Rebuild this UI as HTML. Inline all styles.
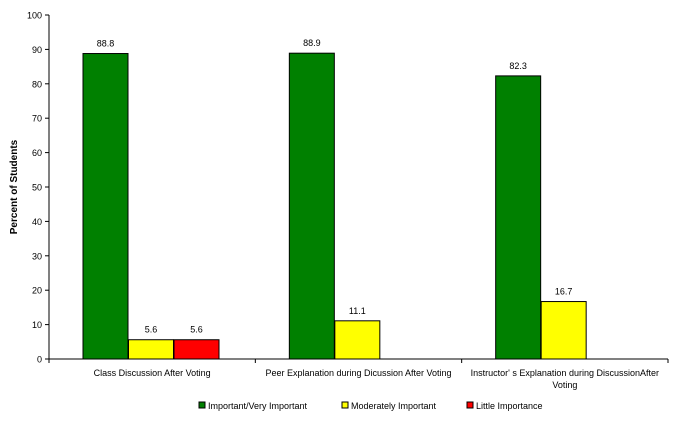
<!DOCTYPE html>
<html><head><meta charset="utf-8"><style>
body{margin:0;background:#fff;font-family:"Liberation Sans",Arial,sans-serif}
svg{display:block}
</style></head><body>
<svg id="c" width="673" height="424" font-family="Liberation Sans, Arial, sans-serif"></svg>
<script>
const categories=[["Class Discussion After Voting"],["Peer Explanation during Dicussion After Voting"],["Instructor' s Explanation during DiscussionAfter","Voting"]];
const seriesNames=["Important/Very Important","Moderately Important","Little Importance"];
const seriesColors=["#008000","#ffff00","#ff0000"];
const important=[88.8,88.9,82.3];
const moderate=[5.6,11.1,16.7];
const little=[5.6,null,null];
const yTicks=[0,10,20,30,40,50,60,70,80,90,100];
const series=[important,moderate,little];
const NS="http://www.w3.org/2000/svg";
const svg=document.getElementById('c');
const x0=49,x1=668,yTop=15,yBot=359;
const gw=(x1-x0)/categories.length;
const y=v=>yBot-(v/100)*(yBot-yTop);
function el(t,a,p){const e=document.createElementNS(NS,t);for(const k in a)e.setAttribute(k,a[k]);(p||svg).appendChild(e);return e;}
// y axis
let ax=el('line',{x1:x0,y1:yTop,x2:x0,y2:yBot,stroke:'#000'});


yTicks.forEach(t=>{
  const tk=el('line',{x1:x0-4,y1:y(t),x2:x0,y2:y(t),stroke:'#000'});
  
  
  const tx=el('text',{x:x0-7,y:y(t)+3.5,'font-size':9,'text-anchor':'end'});
  tx.textContent=t;
  
  
});
const yt=el('text',{x:17,y:187,'font-size':10,'font-weight':'bold','text-anchor':'middle',transform:'rotate(-90 17 187)'});
yt.textContent='Percent of Students';


// bars
categories.forEach((c,i)=>{
  const gx=x0+i*gw;
  series.forEach((s,j)=>{
    const v=s[i];
    if(v==null)return;
    const bx=gx+34+j*45.5;
    const r=el('rect',{x:bx,y:y(v),width:45,height:yBot-y(v),fill:seriesColors[j],stroke:'#000','stroke-width':1});
    
    
    const lt=el('text',{x:bx+22.5,y:y(v)-7,'font-size':9,'text-anchor':'middle'});
    lt.textContent=v.toFixed(1);
    
    
  });
  c.forEach((line,k)=>{
    const ct=el('text',{x:gx+gw/2,y:376+k*12,'font-size':9,'text-anchor':'middle'});
    ct.textContent=line;
    
    
  });
});
let xa=el('line',{x1:x0-4,y1:yBot,x2:x1,y2:yBot,stroke:'#000'});


for(let i=0;i<=categories.length;i++){
  const tk=el('line',{x1:x0+i*gw,y1:yBot,x2:x0+i*gw,y2:yBot+4,stroke:'#000'});
  
  
}
// legend
const lx=[199,342,467];
seriesNames.forEach((n,j)=>{
  const g=el('g',{});
  
  
  el('rect',{x:lx[j],y:402,width:6,height:6,fill:seriesColors[j],stroke:'#000'},g);
  const t=el('text',{x:lx[j]+9,y:409,'font-size':9},g);
  t.textContent=n;
});
</script>
</body></html>
